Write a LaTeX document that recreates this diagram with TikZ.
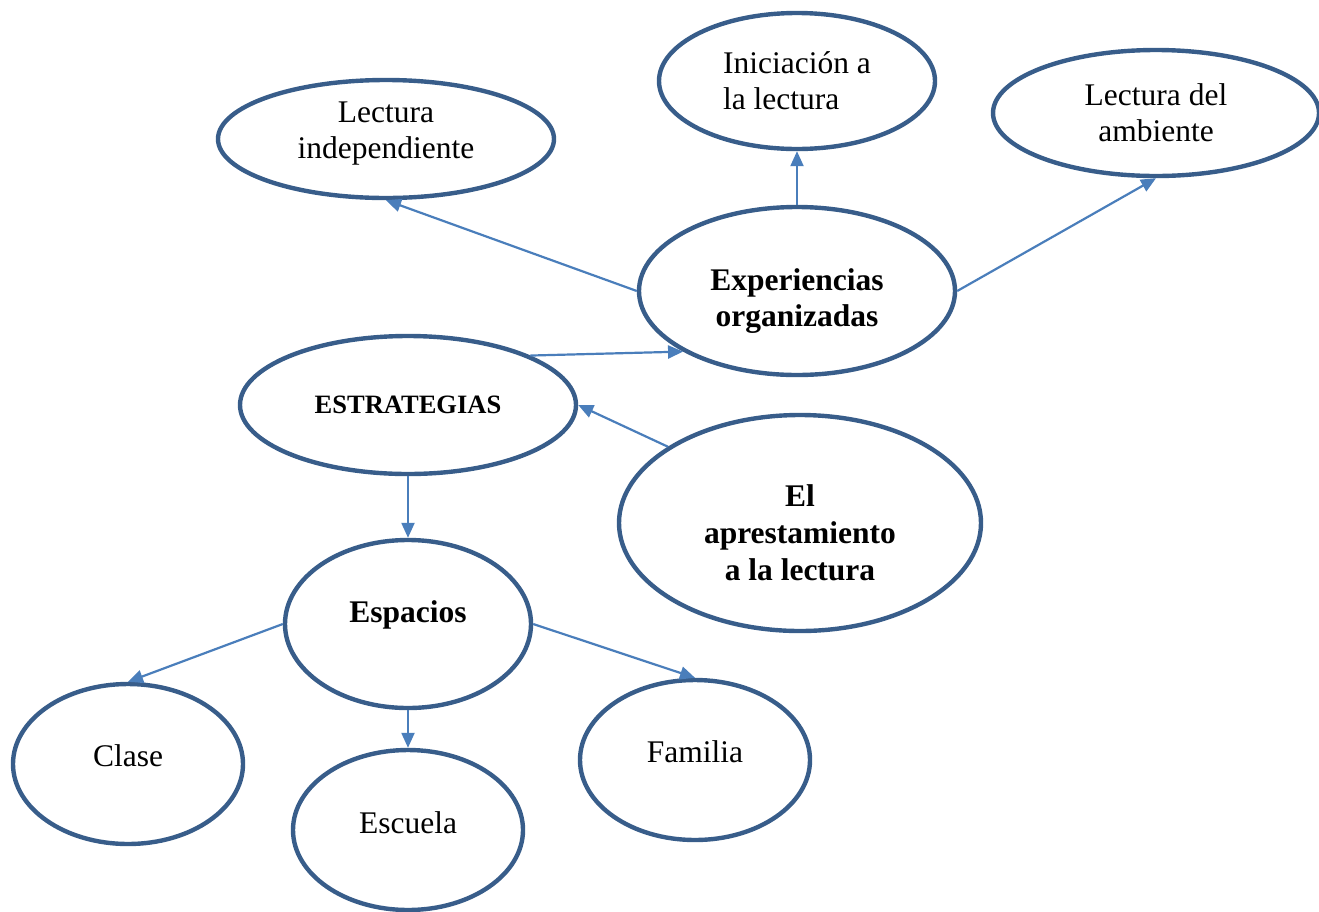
\documentclass[tikz,border=0pt]{standalone}
\usepackage{fontspec}
\setmainfont{Liberation Serif}
\usetikzlibrary{shapes.geometric,arrows.meta}
\definecolor{rimblue}{HTML}{385D8A}
\definecolor{linkblue}{HTML}{4A7EBB}
\tikzset{
  bubble/.style={draw=rimblue, line width=4.4, ellipse, inner sep=0pt, align=center, font=\fontsize{31.5}{36}\selectfont},
  link/.style={draw=linkblue, line width=2.2, -{Triangle[length=15,width=13]}}
}
\begin{document}
\begin{tikzpicture}[x=1pt,y=-1pt]
\useasboundingbox (0,0) rectangle (1319,911);
\node (estr)[bubble, minimum width=336, minimum height=138, font=\fontsize{26.5}{30}\selectfont\bfseries] at (408,405) {ESTRATEGIAS};
\node (exp) [bubble, minimum width=316, minimum height=168, text height=78, font=\fontsize{31.5}{36}\selectfont\bfseries] at (797,291) {Experiencias\\organizadas};
\node (apr) [bubble, minimum width=362, minimum height=216, text height=115, font=\fontsize{31.5}{37}\selectfont\bfseries] at (800,523) {El\\aprestamiento\\a la lectura};
\node (indep)[bubble, minimum width=336, minimum height=118, text depth=17] at (386,139) {Lectura\\independiente};
\node (inic) [bubble, minimum width=276, minimum height=136, align=left, above of=exp, node distance=210] {Iniciación a\\la lectura};
\node (amb) [bubble, minimum width=326, minimum height=126] at (1156,113) {Lectura del\\ambiente};
\node (esp) [bubble, minimum width=246, minimum height=168, text depth=25, font=\fontsize{31.5}{36}\selectfont\bfseries, below of=estr, node distance=219] {Espacios};
\node (clase)[bubble, minimum width=230, minimum height=160, text depth=16] at (128,764) {Clase};
\node (esc) [bubble, minimum width=230, minimum height=160, text depth=14, below of=esp, node distance=206] {Escuela};
\node (fam) [bubble, minimum width=230, minimum height=160, text depth=16] at (695,760) {Familia};

\draw [link](exp.west)--(indep.south);
\draw [link](exp.north)--(inic.south);
\draw [link](exp.east)--(amb.south);
\draw [link](estr.22)--(exp.208);
\draw [link](apr.150)--(estr.east);
\draw [link](estr.south)--(esp.north);
\draw [link](esp.west)--(clase.north);
\draw [link](esp.south)--(esc.north);
\draw [link](esp.east)--(fam.north);
\end{tikzpicture}
\end{document}
